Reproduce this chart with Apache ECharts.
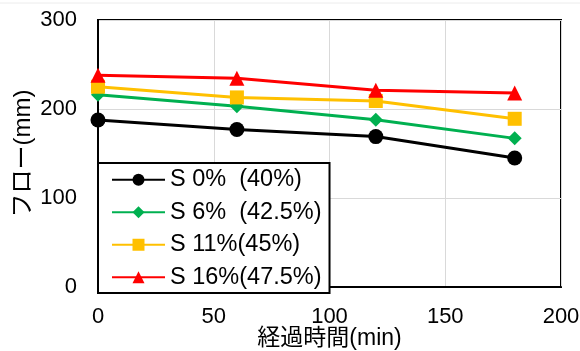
<!DOCTYPE html>
<html><head><meta charset="utf-8">
<script src="https://cdn.jsdelivr.net/npm/echarts@6/dist/echarts.min.js"></script>
<style>html,body{margin:0;padding:0;background:#fff}#c{width:580px;height:351px}</style>
</head><body><div id="c"></div>
<script>
const times = [0, 60, 120, 180];
const seriesNames = ['S 0%  (40%)', 'S 6%  (42.5%)', 'S 11%(45%)', 'S 16%(47.5%)'];
const s0 = [187.6, 177, 169, 145];
const s6 = [216, 203, 188, 167];
const s11 = [225, 213, 209, 189];
const s16 = [238, 234.5, 221, 218];
const colors = ['#000000', '#00b050', '#ffc000', '#ff0000'];
const symbols = ['circle', 'diamond', 'rect', 'triangle'];
const symbolSizes = [15, 14, 14, 15];
const values = [s0, s6, s11, s16];

const FONT = "'Liberation Sans', 'Noto Sans CJK JP', sans-serif";
const chart = echarts.init(document.getElementById('c'), null, {renderer: 'canvas'});
chart.setOption({
  animation: false,
  backgroundColor: '#fff',
  textStyle: {fontFamily: FONT},
  graphic: [{type: 'line', shape: {x1: 0, y1: 3, x2: 580, y2: 3}, style: {stroke: '#ececec', lineWidth: 1}, silent: true}],
  grid: {left: 98, right: 19, top: 20, bottom: 64, show: true, borderColor: '#000', borderWidth: 2, containLabel: false, outerBoundsMode: 'none'},
  xAxis: {
    type: 'value', min: 0, max: 200, interval: 50,
    name: '経過時間(min)', nameLocation: 'middle', nameGap: 40, nameMoveOverlap: false,
    nameTextStyle: {color: '#000', fontSize: 23, lineHeight: 23, fontFamily: FONT},
    axisLine: {show: true, lineStyle: {color: '#000', width: 2}},
    axisTick: {show: false},
    axisLabel: {color: '#000', fontSize: 22, margin: 19, fontFamily: FONT},
    splitLine: {show: true, lineStyle: {color: '#d9d9d9', width: 1}}
  },
  yAxis: {
    type: 'value', min: 0, max: 300, interval: 100,
    name: 'フロー(mm)', nameLocation: 'middle', nameGap: 63, nameRotate: 90, nameMoveOverlap: false,
    nameTextStyle: {color: '#000', fontSize: 24, lineHeight: 24, fontFamily: FONT},
    axisLine: {show: true, lineStyle: {color: '#000', width: 2}},
    axisTick: {show: false},
    axisLabel: {color: '#000', fontSize: 22, margin: 21, fontFamily: FONT},
    splitLine: {show: true, lineStyle: {color: '#d9d9d9', width: 1}}
  },
  legend: {
    left: 98, top: 163, orient: 'vertical',
    backgroundColor: '#fff', borderColor: '#000', borderWidth: 2,
    padding: [5, 8, 4, 13],
    itemWidth: 53, itemHeight: 15, itemGap: 9,
    textStyle: {color: '#000', fontSize: 23.5, lineHeight: 22, fontFamily: FONT},
    data: seriesNames
  },
  series: values.map((v, i) => ({
    name: seriesNames[i], type: 'line',
    data: times.map((t, j) => [t, v[j]]),
    symbol: symbols[i], symbolSize: symbolSizes[i], showSymbol: true,
    lineStyle: {color: colors[i], width: 3},
    itemStyle: {color: colors[i]},
    z: 3
  }))
});
</script></body></html>
